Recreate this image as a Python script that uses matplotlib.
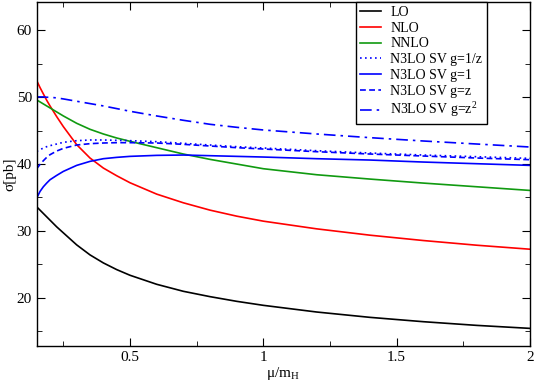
import matplotlib
matplotlib.use("Agg")
import matplotlib.pyplot as plt
from matplotlib.ticker import MultipleLocator

plt.rcParams['font.family'] = ['Liberation Serif', 'DejaVu Serif']
plt.rcParams['mathtext.fontset'] = 'custom'
plt.rcParams['mathtext.rm'] = 'Liberation Serif'
plt.rcParams['mathtext.it'] = 'Liberation Serif:italic'

# mu/m_H grid where values were read
mu = [0.15, 0.1625, 0.175, 0.1875, 0.2, 0.225, 0.25, 0.3, 0.35, 0.4, 0.45, 0.5,
      0.6, 0.7, 0.8, 0.9, 1.0, 1.2, 1.4, 1.6, 1.8, 2.0]

lo = [33.6, 33.1, 32.6, 32.1, 31.6, 30.6, 29.7, 27.9, 26.4, 25.2, 24.2, 23.35,
      22.0, 20.95, 20.15, 19.45, 18.85, 17.85, 17.05, 16.4, 15.85, 15.4]
nlo = [52.5, 51.45, 50.5, 49.55, 48.7, 47.1, 45.6, 42.9, 40.9, 39.4, 38.25, 37.2,
       35.5, 34.2, 33.1, 32.2, 31.45, 30.3, 29.35, 28.55, 27.85, 27.25]
nnlo = [49.6, 49.3, 49.0, 48.7, 48.4, 47.8, 47.2, 46.1, 45.2, 44.5, 43.9, 43.4,
        42.45, 41.5, 40.7, 40.0, 39.3, 38.4, 37.75, 37.15, 36.6, 36.05]
n3lo_inv_z = [41.9, 42.15, 42.4, 42.6, 42.75, 43.0, 43.25, 43.5, 43.6, 43.6, 43.55, 43.5,
              43.35, 43.1, 42.85, 42.6, 42.4, 42.0, 41.65, 41.35, 41.1, 40.85]
n3lo_one = [34.9, 35.9, 36.6, 37.15, 37.65, 38.3, 38.9, 39.8, 40.4, 40.8, 41.0, 41.15,
            41.3, 41.35, 41.25, 41.15, 41.05, 40.8, 40.6, 40.3, 40.05, 39.8]
n3lo_z = [39.3, 39.95, 40.5, 41.0, 41.4, 41.95, 42.35, 42.85, 43.05, 43.15, 43.2, 43.2,
          43.15, 42.95, 42.7, 42.45, 42.25, 41.85, 41.5, 41.2, 40.9, 40.65]
n3lo_z2 = [50.05, 50.05, 50.05, 50.0, 50.0, 49.9, 49.75, 49.4, 49.05, 48.7, 48.3, 47.9,
           47.2, 46.55, 45.95, 45.5, 45.1, 44.5, 43.95, 43.45, 43.0, 42.55]

labels = ["LO", "NLO", "NNLO", "N3LO SV g=1/z", "N3LO SV g=1",
          "N3LO SV g=z", "N3LO SV g=z$^2$"]

fig = plt.figure(figsize=(5.34, 3.82), dpi=100)
ax = fig.add_axes([0.0687, 0.0942, 0.9238, 0.9013])

lw = 1.2
ax.plot(mu, lo, color='black', lw=lw, label=labels[0])
ax.plot(mu, nlo, color='#ff0000', lw=lw, label=labels[1])
ax.plot(mu, nnlo, color='#109a10', lw=lw, label=labels[2])
ax.plot(mu, n3lo_inv_z, color='#0000ff', lw=lw, ls=(0, (1, 2)), label=labels[3])
ax.plot(mu, n3lo_one, color='#0000ff', lw=lw, label=labels[4])
ax.plot(mu, n3lo_z, color='#0000ff', lw=lw, ls=(0, (3.5, 2)), label=labels[5])
ax.plot(mu, n3lo_z2, color='#0000ff', lw=lw, ls=(0, (7, 3, 1.5, 3)), label=labels[6])

ax.set_xlim(0.15, 2.0)
ax.set_ylim(12.76, 64.3)
ax.xaxis.set_minor_locator(MultipleLocator(0.25))
ax.yaxis.set_major_locator(MultipleLocator(10))
ax.yaxis.set_minor_locator(MultipleLocator(5))
ax.set_xticks([0.5, 1, 1.5, 2])
ax.set_xticklabels(["0.5", "1", "1.5", "2"])
ax.tick_params(which='both', direction='in', top=True, right=True, labelsize=11)
ax.tick_params(which='major', length=6)
ax.tick_params(which='minor', length=3.5)
for s in ax.spines.values():
    s.set_linewidth(1.0)

ax.set_xlabel("μ/m$_\\mathrm{H}$", fontsize=11, labelpad=1)
ax.set_ylabel("σ[pb]", fontsize=11, labelpad=0)

leg = ax.legend(loc='upper right', bbox_to_anchor=(0.912, 1.0), borderaxespad=0,
                fancybox=False, framealpha=1, edgecolor='black', fontsize=10,
                handlelength=1.5, handletextpad=0.7, labelspacing=0.2,
                borderpad=0.3)
leg.get_frame().set_linewidth(1.0)

fig.savefig("out.png", dpi=100)
